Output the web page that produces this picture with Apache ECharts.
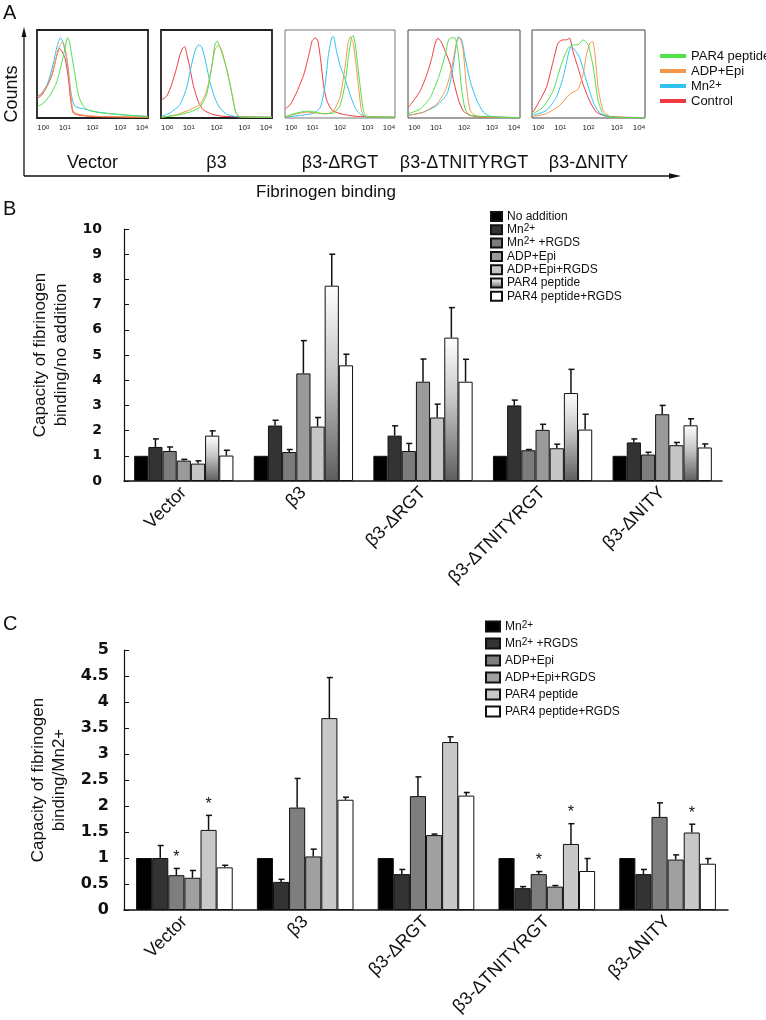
<!DOCTYPE html>
<html><head><meta charset="utf-8">
<script src="https://cdn.jsdelivr.net/npm/echarts@6/dist/echarts.min.js"></script>
<style>html,body{margin:0;padding:0;background:#fff}#c{width:766px;height:1020px}</style>
</head><body><div id="c"></div>
<script>
// ---------- Panel A: flow histograms (x = log10 fluorescence, y = % of panel height)
const histPanels = ['Vector', 'β3', 'β3-ΔRGT', 'β3-ΔTNITYRGT', 'β3-ΔNITY'];
const histTicks = [0, 1, 2, 3, 4];
const histConditions = ['PAR4 peptide', 'ADP+Epi', 'Mn2+', 'Control'];

const vecControl = [[0.02,22.6],[0.18,26.4],[0.36,35.8],[0.54,49],[0.72,71.7],[0.81,79],[0.9,75.5],[1.01,68],[1.13,45.3],[1.22,18.9],[1.31,5.7],[1.55,3],[2.15,1.5],[4,0.8]];
const vecMn = [[0.02,24.5],[0.18,28.3],[0.36,37.7],[0.48,49],[0.6,64],[0.72,81],[0.84,91.3],[0.9,88.7],[0.96,83],[1.07,68],[1.17,41.5],[1.25,24.5],[1.37,13.2],[1.67,10.6],[2.15,6.8],[2.75,4.5],[3.34,3],[4,1.9]];
const vecADP = [[0.02,24.5],[0.24,30.2],[0.42,39.6],[0.6,56.6],[0.78,79.2],[0.92,86.8],[1.01,79.2],[1.13,56.6],[1.22,26.4],[1.31,7.5],[1.55,3.8],[2.15,1.9],[4,0.8]];
const vecPAR4 = [[0.02,13.2],[0.24,17],[0.48,26.4],[0.72,41.5],[0.9,64.2],[1.01,79.2],[1.1,91.3],[1.17,86.8],[1.25,71.7],[1.37,49],[1.49,26.4],[1.67,13.2],[1.91,8.3],[2.39,5.7],[3.34,3],[4,1.5]];

const b3Control = [[0.02,20.8],[0.2,24.5],[0.38,37.7],[0.56,56.6],[0.68,71.7],[0.78,79.2],[0.86,81.1],[0.92,73.6],[1.02,60.4],[1.16,37.7],[1.34,18.9],[1.52,9.4],[1.82,4.5],[2.24,1.9],[4,0.8]];
const b3Mn = [[0.02,1.9],[0.32,5.7],[0.68,15.1],[0.92,34],[1.1,60.4],[1.22,75.5],[1.34,83],[1.46,81.1],[1.58,67.9],[1.76,41.5],[1.94,22.6],[2.12,11.3],[2.36,4.5],[2.72,1.5],[4,0.8]];
const b3ADP = [[0.02,0.8],[0.56,3.8],[1.04,9.4],[1.4,15.1],[1.64,30.2],[1.82,56.6],[1.94,77.4],[2.06,82.3],[2.18,77.4],[2.36,56.6],[2.54,30.2],[2.69,6.8],[2.84,1.5],[4,0.8]];
const b3PAR4 = [[0.02,0.8],[0.56,3],[1.04,6.8],[1.4,12.1],[1.64,26.4],[1.82,56.6],[1.94,83],[2.02,87.5],[2.12,81.1],[2.36,56.6],[2.54,30.2],[2.69,6.8],[2.84,1.1],[4,0.8]];

const rgtControl = [[0.02,10.4],[0.21,16],[0.45,31],[0.69,50],[0.87,72],[0.99,88],[1.11,91],[1.19,88],[1.29,68],[1.4,38],[1.52,20],[1.7,9.3],[2,4.9],[2.6,1.9],[4,0.8]];
const rgtMn = [[0.02,1.1],[0.57,3],[1.05,5.6],[1.29,12.3],[1.46,38],[1.58,72],[1.7,91.4],[1.76,92.5],[1.86,78],[2,59.7],[2.18,44.8],[2.36,27.2],[2.54,12.3],[2.71,4.9],[2.95,1.5],[4,0.8]];
const rgtADP = [[0.02,1.1],[0.33,4.1],[0.81,6.7],[1.17,5.6],[1.52,4.9],[1.76,7.8],[2,23.5],[2.18,57],[2.3,86.2],[2.38,92.5],[2.48,85],[2.57,64],[2.69,31],[2.77,10.4],[2.89,1.9],[4,0.8]];
const rgtPAR4 = [[0.02,1.9],[0.33,4.9],[0.81,7.8],[1.1,6.7],[1.35,4.9],[1.76,5.6],[2,14.2],[2.18,38],[2.3,68],[2.42,91.4],[2.48,93.7],[2.57,79.5],[2.71,42],[2.83,12.3],[2.95,1.9],[4,0.8]];

const tnControl = [[0.02,12.3],[0.2,19.8],[0.44,31],[0.68,50],[0.85,68.3],[0.97,85],[1.07,90.7],[1.21,85],[1.33,75.7],[1.51,60.8],[1.63,42],[1.81,19.8],[1.98,7.8],[2.22,3],[2.58,1.1],[4,0.4]];
const tnMn = [[0.02,3],[0.56,6.7],[1.03,14.2],[1.39,27.2],[1.57,50],[1.69,76],[1.8,92.5],[1.92,88.8],[2.04,68.3],[2.22,42],[2.46,19.8],[2.69,6.7],[2.93,1.9],[4,0.4]];
const tnADP = [[0.02,3],[0.56,6.7],[1.03,16],[1.33,31],[1.51,50],[1.63,68.3],[1.74,87],[1.84,91.4],[1.96,79.5],[2.08,38],[2.22,8.6],[2.46,1.9],[4,0.4]];
const tnPAR4 = [[0.02,4.9],[0.44,10.4],[0.8,23.5],[1.09,45.9],[1.33,72],[1.45,88.8],[1.57,91.4],[1.69,90.7],[1.8,72],[1.92,31],[2.04,10.4],[2.22,3],[4,0.4]];

const nityControl = [[0.04,6.7],[0.27,19.8],[0.51,34.7],[0.75,64.6],[0.92,85],[1.1,88.8],[1.22,88.8],[1.33,90.7],[1.45,75.7],[1.63,57],[1.81,38],[2.05,18.7],[2.28,6.7],[2.64,1.9],[4,0.4]];
const nityMn = [[0.04,3],[0.51,8.6],[0.86,23.5],[1.1,45.9],[1.31,75.7],[1.4,81.3],[1.51,77.6],[1.69,68.3],[1.93,42],[2.17,17.9],[2.4,5.6],[2.76,1.1],[4,0.4]];
const nityADP = [[0.04,1.9],[0.51,4.9],[0.98,14.2],[1.34,27.2],[1.63,32.8],[1.81,49.6],[1.93,72],[2.05,85],[2.14,86.9],[2.22,75.7],[2.34,34.7],[2.52,8.6],[2.82,1.1],[4,0.4]];
const nityPAR4 = [[0.04,4.9],[0.39,12.3],[0.75,31],[1.04,61],[1.28,79.5],[1.46,83.2],[1.63,83.2],[1.81,88.8],[1.99,83.2],[2.17,57],[2.34,19.8],[2.52,4.9],[2.82,1.1],[4,0.4]];

// ---------- Panel B: capacity of fibrinogen binding / no addition
const barCategories = ['Vector', 'β3', 'β3-ΔRGT', 'β3-ΔTNITYRGT', 'β3-ΔNITY'];
const bNames = ['No addition', 'Mn2+', 'Mn2+ +RGDS', 'ADP+Epi', 'ADP+Epi+RGDS', 'PAR4 peptide', 'PAR4 peptide+RGDS'];
const bNoAddition = [1, 1, 1, 1, 1];
const bNoAdditionSd = [0, 0, 0, 0, 0];
const bMn = [1.35, 2.20, 1.80, 3.00, 1.53];
const bMnSd = [0.32, 0.21, 0.39, 0.21, 0.14];
const bMnRGDS = [1.19, 1.15, 1.19, 1.22, 1.05];
const bMnRGDSSd = [0.16, 0.10, 0.30, 0.03, 0.09];
const bADP = [0.81, 4.27, 3.94, 2.03, 2.65];
const bADPSd = [0.05, 1.30, 0.90, 0.22, 0.35];
const bADPRGDS = [0.69, 2.16, 2.52, 1.30, 1.42];
const bADPRGDSSd = [0.11, 0.36, 0.53, 0.16, 0.11];
const bPAR4 = [1.80, 7.75, 5.69, 3.49, 2.21];
const bPAR4Sd = [0.19, 1.25, 1.19, 0.94, 0.26];
const bPAR4RGDS = [1.01, 4.59, 3.94, 2.04, 1.33];
const bPAR4RGDSSd = [0.21, 0.44, 0.89, 0.61, 0.14];
const bTicks = [0, 1, 2, 3, 4, 5, 6, 7, 8, 9, 10];

// ---------- Panel C: capacity of fibrinogen binding / Mn2+
const cNames = ['Mn2+', 'Mn2+ +RGDS', 'ADP+Epi', 'ADP+Epi+RGDS', 'PAR4 peptide', 'PAR4 peptide+RGDS'];
const cMn = [1, 1, 1, 1, 1];
const cMnSd = [0, 0, 0, 0, 0];
const cMnRGDS = [1.00, 0.54, 0.69, 0.42, 0.69];
const cMnRGDSSd = [0.24, 0.05, 0.09, 0.03, 0.09];
const cADP = [0.67, 1.97, 2.19, 0.69, 1.79];
const cADPSd = [0.13, 0.56, 0.37, 0.05, 0.27];
const cADPRGDS = [0.62, 1.03, 1.44, 0.45, 0.97];
const cADPRGDSSd = [0.14, 0.14, 0.02, 0.02, 0.09];
const cPAR4 = [1.54, 3.69, 3.23, 1.27, 1.49];
const cPAR4Sd = [0.28, 0.78, 0.10, 0.39, 0.16];
const cPAR4RGDS = [0.82, 2.12, 2.20, 0.75, 0.89];
const cPAR4RGDSSd = [0.04, 0.05, 0.06, 0.24, 0.10];
const cADPStar = [1, 0, 0, 1, 0];
const cPAR4Star = [1, 0, 0, 1, 1];
const cTicks = [0, 0.5, 1, 1.5, 2, 2.5, 3, 3.5, 4, 4.5, 5];
const noStar = [0, 0, 0, 0, 0];

// ---------------------------------------------------------------
const SANS = 'Liberation Sans, Arial, sans-serif';
const histColors = { 'PAR4 peptide': '#4fe04a', 'ADP+Epi': '#f4974a', 'Mn2+': '#31c2ee', 'Control': '#ee3a3e' };
const histSets = [
  { Control: vecControl, 'Mn2+': vecMn, 'ADP+Epi': vecADP, 'PAR4 peptide': vecPAR4 },
  { Control: b3Control, 'Mn2+': b3Mn, 'ADP+Epi': b3ADP, 'PAR4 peptide': b3PAR4 },
  { Control: rgtControl, 'Mn2+': rgtMn, 'ADP+Epi': rgtADP, 'PAR4 peptide': rgtPAR4 },
  { Control: tnControl, 'Mn2+': tnMn, 'ADP+Epi': tnADP, 'PAR4 peptide': tnPAR4 },
  { Control: nityControl, 'Mn2+': nityMn, 'ADP+Epi': nityADP, 'PAR4 peptide': nityPAR4 }
];
const histRects = [[37, 30, 148, 118], [161, 30, 272, 118], [285, 30, 395, 118], [408, 30, 520, 118], [532, 30, 645, 118]];
const histBorders = [[1.8, '#222'], [1.8, '#222'], [1, '#777'], [1, '#444'], [1, '#444']];

const grids = [], xAxes = [], yAxes = [], series = [];
histRects.forEach((r, i) => {
  grids.push({ left: r[0], top: r[1], width: r[2] - r[0], height: r[3] - r[1], show: true,
    borderColor: histBorders[i][1], borderWidth: histBorders[i][0], backgroundColor: 'transparent' });
  xAxes.push({ type: 'value', gridIndex: i, min: histTicks[0], max: histTicks[histTicks.length - 1], interval: 1,
    axisLine: { show: false }, axisTick: { show: false }, splitLine: { show: false },
    axisLabel: { margin: 6, color: '#222', fontFamily: SANS, fontSize: 8, alignMinLabel: 'left', alignMaxLabel: 'right',
      formatter: v => '10{s|' + v + '}', rich: { s: { fontSize: 6, lineHeight: 3, verticalAlign: 'top', fontFamily: SANS, color: '#222' } } },
    name: histPanels[i], nameLocation: 'middle', nameGap: 36,
    nameTextStyle: { fontFamily: SANS, fontSize: 18, color: '#111' } });
  yAxes.push({ type: 'value', gridIndex: i, min: 0, max: 100, show: false });
  ['Control', 'Mn2+', 'ADP+Epi', 'PAR4 peptide'].forEach(k => {
    series.push({ type: 'line', name: 'A|' + k, xAxisIndex: i, yAxisIndex: i, data: histSets[i][k],
      symbol: 'none', smooth: 0.2, color: histColors[k], lineStyle: { width: 1, color: histColors[k] },
      itemStyle: { color: histColors[k] }, silent: true, animation: false });
  });
});

function barPanel(gi, names, values, sds, stars, colors, gap, yMax, yInt, ticksFont) {
  grids.push(gi.grid);
  const xi = xAxes.length;
  xAxes.push({ type: 'category', gridIndex: xi, data: barCategories,
    axisLine: { lineStyle: { color: '#111', width: 1.5 } }, axisTick: { show: false },
    axisLabel: { interval: 0, rotate: 45, margin: 9, fontFamily: SANS, fontSize: 18, color: '#111' } });
  yAxes.push({ type: 'value', gridIndex: xi, min: 0, max: yMax, interval: yInt,
    axisLine: { show: true, lineStyle: { color: '#111', width: 1.2 } },
    axisTick: { show: true, inside: true, length: 5, lineStyle: { color: '#111' } },
    splitLine: { show: false },
    axisLabel: { margin: gi.labelMargin, fontFamily: 'DejaVu Sans, sans-serif', fontWeight: 'bold', fontSize: ticksFont, color: '#111' },
    name: gi.yName, nameLocation: 'middle', nameGap: gi.nameGap, nameRotate: 90,
    nameTextStyle: { fontFamily: SANS, fontSize: 17, color: '#111', lineHeight: 21 } });
  const n = names.length;
  names.forEach((nm, s) => {
    series.push({ type: 'bar', name: gi.prefix + nm, xAxisIndex: xi, yAxisIndex: xi, data: values[s],
      barGap: '0%', barCategoryGap: gap * 100 + '%',
      itemStyle: { color: colors[s], borderColor: '#111', borderWidth: 1 }, animation: false, silent: true });
  });
  const errData = [];
  names.forEach((nm, s) => values[s].forEach((v, c) => errData.push([c, s, v, sds[s][c], stars[s][c]])));
  series.push({ type: 'custom', xAxisIndex: xi, yAxisIndex: xi, data: errData, z: 5, silent: true, animation: false,
    encode: { x: 0, y: 2 },
    renderItem: (params, api) => {
      const c = api.value(0), s = api.value(1), v = api.value(2), sd = api.value(3), st = api.value(4);
      const base = api.coord([c, v]);
      const top = api.coord([c, v + sd]);
      const band = api.size([1, 0])[0];
      const bw = band * (1 - gap) / n;
      const x = base[0] + (s - (n - 1) / 2) * bw;
      const ch = [];
      if (sd > 0) {
        ch.push({ type: 'line', shape: { x1: x, y1: base[1], x2: x, y2: top[1] }, style: { stroke: '#111', lineWidth: 1.5 } });
        ch.push({ type: 'line', shape: { x1: x - 2.5, y1: top[1], x2: x + 3.5, y2: top[1] }, style: { stroke: '#111', lineWidth: 1.5 } });
      }
      if (st) {
        ch.push({ type: 'text', x: x, y: top[1] - 3, style: { text: '*', fontSize: 16, fontFamily: SANS, fill: '#111', align: 'center', verticalAlign: 'bottom' } });
      }
      return { type: 'group', children: ch };
    } });
}

const par4Gradient = { type: 'linear', x: 0, y: 0, x2: 0, y2: 1, colorStops: [{ offset: 0, color: '#ffffff' }, { offset: 0.45, color: '#c4c4c4' }, { offset: 1, color: '#5e5e5e' }] };
barPanel({ grid: { left: 124, top: 229, width: 598, height: 252 }, prefix: 'B|', yName: 'Capacity of fibrinogen\nbinding/no addition', nameGap: 52, labelMargin: 22 },
  bNames, [bNoAddition, bMn, bMnRGDS, bADP, bADPRGDS, bPAR4, bPAR4RGDS],
  [bNoAdditionSd, bMnSd, bMnRGDSSd, bADPSd, bADPRGDSSd, bPAR4Sd, bPAR4RGDSSd],
  [noStar, noStar, noStar, noStar, noStar, noStar, noStar],
  ['#000000', '#333333', '#7c7c7c', '#9a9a9a', '#c6c6c6', par4Gradient, '#ffffff'], 0.17, bTicks[bTicks.length - 1], bTicks[1] - bTicks[0], 14);

barPanel({ grid: { left: 124, top: 650, width: 604, height: 260 }, prefix: 'C|', yName: 'Capacity of fibrinogen\nbinding/Mn2+', nameGap: 54, labelMargin: 15 },
  cNames, [cMn, cMnRGDS, cADP, cADPRGDS, cPAR4, cPAR4RGDS],
  [cMnSd, cMnRGDSSd, cADPSd, cADPRGDSSd, cPAR4Sd, cPAR4RGDSSd],
  [noStar, noStar, cADPStar, noStar, cPAR4Star, noStar],
  ['#000000', '#333333', '#7e7e7e', '#a0a0a0', '#c8c8c8', '#ffffff'], 0.2, cTicks[cTicks.length - 1], cTicks[1] - cTicks[0], 16);

const supFmt = name => name.split('|')[1].replace('Mn2+', 'Mn{sup|2+}');
const legendRich = fs => ({ sup: { fontSize: fs - 2, lineHeight: 3, verticalAlign: 'top', fontFamily: SANS, color: '#111' } });

const option = {
  backgroundColor: '#ffffff',
  animation: false,
  grid: grids, xAxis: xAxes, yAxis: yAxes, series: series,
  legend: [
    { left: 655, top: 44, orient: 'vertical', data: histConditions.map(n => 'A|' + n), icon: 'rect', itemWidth: 26, itemHeight: 4, itemGap: 1,
      selectedMode: false, formatter: supFmt,
      textStyle: { fontFamily: SANS, fontSize: 13, color: '#111', lineHeight: 14, rich: legendRich(13) } },
    { left: 485, top: 205, orient: 'vertical', data: bNames.map(n => 'B|' + n), icon: 'rect', itemWidth: 11, itemHeight: 9, itemGap: 0.3,
      selectedMode: false, formatter: supFmt,
      textStyle: { fontFamily: SANS, fontSize: 12, color: '#111', lineHeight: 13, rich: legendRich(12) } },
    { left: 480, top: 615, orient: 'vertical', data: cNames.map(n => 'C|' + n), icon: 'rect', itemWidth: 14, itemHeight: 10, itemGap: 4,
      selectedMode: false, formatter: supFmt,
      textStyle: { fontFamily: SANS, fontSize: 12, color: '#111', lineHeight: 13, rich: legendRich(12) } }
  ],
  graphic: [
    { type: 'text', left: 3, top: 3, style: { text: 'A', fontSize: 20, fontFamily: SANS, fill: '#111' } },
    { type: 'text', left: 3, top: 199, style: { text: 'B', fontSize: 20, fontFamily: SANS, fill: '#111' } },
    { type: 'text', left: 3, top: 614, style: { text: 'C', fontSize: 20, fontFamily: SANS, fill: '#111' } },
    { type: 'text', x: 12, y: 94, rotation: Math.PI / 2, style: { text: 'Counts', fontSize: 18, fontFamily: SANS, fill: '#111', align: 'center', verticalAlign: 'middle' } },
    { type: 'line', shape: { x1: 24, y1: 176, x2: 24, y2: 34 }, style: { stroke: '#111', lineWidth: 1.3 } },
    { type: 'polygon', shape: { points: [[24, 27], [21.5, 37], [26.5, 37]] }, style: { fill: '#111' } },
    { type: 'line', shape: { x1: 24, y1: 176, x2: 672, y2: 176 }, style: { stroke: '#111', lineWidth: 1.3 } },
    { type: 'polygon', shape: { points: [[681, 176], [669, 173.3], [669, 178.7]] }, style: { fill: '#111' } },
    { type: 'text', x: 326, y: 192, style: { text: 'Fibrinogen binding', fontSize: 17, fontFamily: SANS, fill: '#111', align: 'center', verticalAlign: 'middle' } }
  ]
};

const chart = echarts.init(document.getElementById('c'), null, { renderer: 'canvas', width: 766, height: 1020 });
chart.setOption(option);
</script>
</body></html>
